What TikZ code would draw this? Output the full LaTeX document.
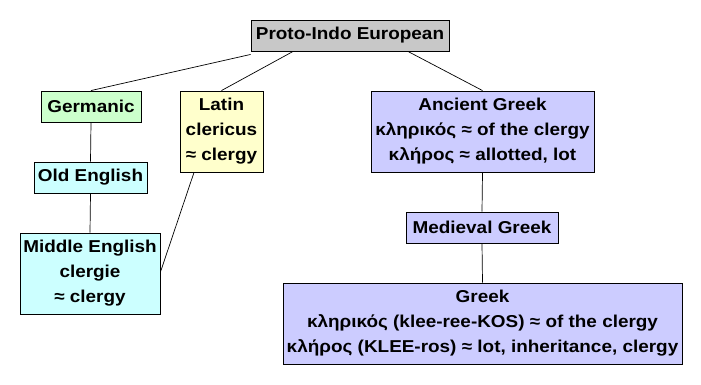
\documentclass[tikz,border=0pt]{standalone}
\usepackage{fontspec}
\setmainfont{Liberation Sans}[FakeStretch=1.1,BoldFeatures={FakeStretch=1.1}]
\definecolor{pgray}{HTML}{C8C8C8}
\definecolor{pgreen}{HTML}{CCFFCC}
\definecolor{pyellow}{HTML}{FFFFCC}
\definecolor{pcyan}{HTML}{CCFFFF}
\definecolor{pblue}{HTML}{CCCCFF}
\tikzset{
  box/.style={draw=black, line width=0.9pt, rectangle, inner sep=0pt, align=center,
    font=\fontsize{17.2}{25}\selectfont\bfseries},
  link/.style={draw=black, line width=0.7pt}
}
\begin{document}
\begin{tikzpicture}[x=1pt,y=-1pt]
\useasboundingbox (0,0) rectangle (701,384);
\node[box, fill=pgray, minimum width=198pt, minimum height=31pt] (proto) at (350,35.5) {Proto-Indo European};
\node[box, fill=pgreen, minimum width=100pt, minimum height=31pt] (germanic) at (91,106.5) {Germanic};
\node[box, fill=pyellow, minimum width=83pt, minimum height=81pt] (latin) at (221.5,131.5) {Latin\\clericus\\≈ clergy};
\node[box, fill=pcyan, minimum width=113pt, minimum height=31pt] (oldeng) at (90.5,177.5) {Old English};
\node[box, fill=pcyan, minimum width=140pt, minimum height=81pt] (mideng) at (90,273.5) {Middle English\\clergie\\≈ clergy};
\node[box, fill=pblue, minimum width=223pt, minimum height=81pt] (ancgreek) at (482.5,131.5) {Ancient Greek\\κληρικός ≈ of the clergy\\κλήρος ≈ allotted, lot};
\node[box, fill=pblue, minimum width=152pt, minimum height=31pt] (medgreek) at (482,227.5) {Medieval Greek};
\node[box, fill=pblue, minimum width=399pt, minimum height=81pt] (greek) at (482.5,323.5) {Greek\\κληρικός (klee-ree-KOS) ≈ of the clergy\\κλήρος (KLEE-ros) ≈ lot, inheritance, clergy};
\draw[link] ([yshift=-3pt]proto.south west) -- (germanic.north);
\draw[link] ([xshift=-57pt]proto.south) -- (latin.north);
\draw[link] ([xshift=58pt]proto.south) -- (ancgreek.north);
\draw[link] (germanic.south) -- (oldeng.north);
\draw[link] (oldeng.south) -- (mideng.north);
\draw[link] ([xshift=-27.5pt]latin.south) -- ([yshift=1.5pt]mideng.east);
\draw[link] (ancgreek.south) -- (medgreek.north);
\draw[link] (medgreek.south) -- (greek.north);
\end{tikzpicture}
\end{document}
